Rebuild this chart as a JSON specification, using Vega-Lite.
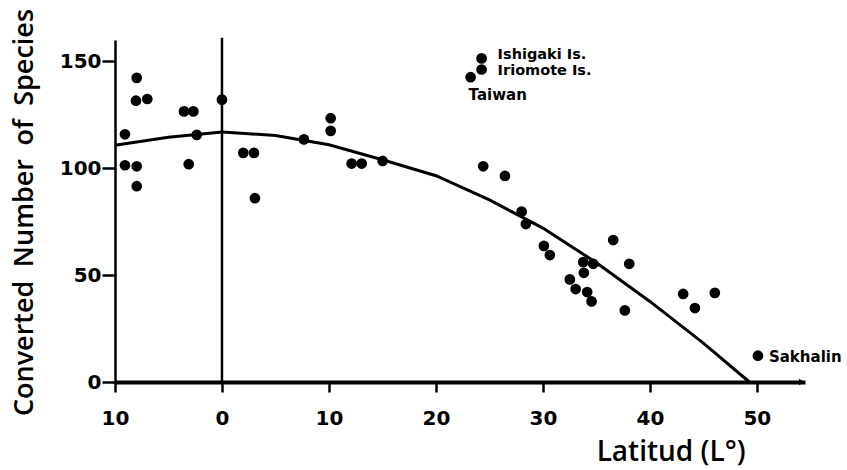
{
  "$schema": "https://vega.github.io/schema/vega-lite/v6.json",
  "width": 690,
  "height": 342,
  "autosize": "none",
  "padding": {"left": 115, "top": 40, "right": 42, "bottom": 88},
  "background": "white",
  "config": {
    "view": {"stroke": null},
    "font": "DejaVu Sans"
  },
  "datasets": {
    "points": [
      {"lat": -7.97, "species": 142.3, "label": null},
      {"lat": -8.04, "species": 131.6, "label": null},
      {"lat": -6.98, "species": 132.4, "label": null},
      {"lat": -3.55, "species": 126.6, "label": null},
      {"lat": -2.68, "species": 126.6, "label": null},
      {"lat": -9.07, "species": 115.9, "label": null},
      {"lat": -2.36, "species": 115.6, "label": null},
      {"lat": 0, "species": 132.1, "label": null},
      {"lat": -9.07, "species": 101.4, "label": null},
      {"lat": -7.97, "species": 100.9, "label": null},
      {"lat": -7.97, "species": 91.6, "label": null},
      {"lat": -3.11, "species": 101.9, "label": null},
      {"lat": 1.99, "species": 107.2, "label": null},
      {"lat": 2.99, "species": 107.2, "label": null},
      {"lat": 3.08, "species": 86.0, "label": null},
      {"lat": 7.66, "species": 113.5, "label": null},
      {"lat": 10.16, "species": 123.4, "label": null},
      {"lat": 10.16, "species": 117.5, "label": null},
      {"lat": 12.12, "species": 102.2, "label": null},
      {"lat": 13.06, "species": 102.2, "label": null},
      {"lat": 15.02, "species": 103.4, "label": null},
      {"lat": 24.27, "species": 151.4, "label": "Ishigaki Is."},
      {"lat": 24.27, "species": 146.2, "label": "Iriomote Is."},
      {"lat": 23.24, "species": 142.6, "label": "Taiwan"},
      {"lat": 24.42, "species": 100.9, "label": null},
      {"lat": 26.45, "species": 96.4, "label": null},
      {"lat": 28.01, "species": 79.7, "label": null},
      {"lat": 28.41, "species": 73.9, "label": null},
      {"lat": 30.09, "species": 63.7, "label": null},
      {"lat": 30.65, "species": 59.4, "label": null},
      {"lat": 36.57, "species": 66.4, "label": null},
      {"lat": 33.77, "species": 56.1, "label": null},
      {"lat": 34.7, "species": 55.3, "label": null},
      {"lat": 38.07, "species": 55.3, "label": null},
      {"lat": 33.83, "species": 51.1, "label": null},
      {"lat": 32.52, "species": 48.0, "label": null},
      {"lat": 33.06, "species": 43.5, "label": null},
      {"lat": 34.14, "species": 42.1, "label": null},
      {"lat": 34.55, "species": 37.7, "label": null},
      {"lat": 37.66, "species": 33.5, "label": null},
      {"lat": 43.11, "species": 41.2, "label": null},
      {"lat": 44.21, "species": 34.6, "label": null},
      {"lat": 46.07, "species": 41.7, "label": null},
      {"lat": 50.1, "species": 12.3, "label": "Sakhalin"}
    ],
    "curve": [
      {"lat": -10, "species": 110.8},
      {"lat": -5, "species": 114.5},
      {"lat": 0, "species": 117.0},
      {"lat": 5, "species": 115.3},
      {"lat": 10, "species": 111.0},
      {"lat": 15, "species": 104.0},
      {"lat": 20, "species": 96.5},
      {"lat": 25, "species": 85.2},
      {"lat": 30, "species": 72.0},
      {"lat": 35, "species": 55.8},
      {"lat": 40, "species": 37.7},
      {"lat": 45, "species": 18.2},
      {"lat": 49.3, "species": 0}
    ],
    "equator": [
      {"lat": 0, "low": 0, "high": 161}
    ],
    "arrow": [
      {"lat": 54.2, "species": 0}
    ]
  },
  "encoding": {
    "x": {
      "field": "lat",
      "type": "quantitative",
      "scale": {"domain": [-10, 54.5], "nice": false, "zero": false},
      "axis": {
        "values": [-10, 0, 10, 20, 30, 40, 50],
        "labelExpr": "abs(datum.value)",
        "labelFlush": false,
        "grid": false,
        "domainColor": "black",
        "domainWidth": 4,
        "tickColor": "black",
        "tickWidth": 2.5,
        "tickSize": 10,
        "labelFont": "DejaVu Sans",
        "labelFontWeight": "bold",
        "labelFontSize": 20,
        "labelColor": "black",
        "labelPadding": 16,
        "title": "Latitud (L°)",
        "titleFont": "Open Sans",
        "titleFontWeight": 600,
        "titleFontSize": 28,
        "titleColor": "black",
        "titleAnchor": "end",
        "titleAlign": "right",
        "titleBaseline": "alphabetic",
        "titleX": 630,
        "titleY": 78
      }
    },
    "y": {
      "field": "species",
      "type": "quantitative",
      "scale": {"domain": [0, 160], "nice": false},
      "axis": {
        "values": [0, 50, 100, 150],
        "grid": false,
        "domainColor": "black",
        "domainWidth": 2.5,
        "tickColor": "black",
        "tickWidth": 2.5,
        "tickSize": 13,
        "labelFont": "DejaVu Sans",
        "labelFontWeight": "bold",
        "labelFontSize": 20,
        "labelColor": "black",
        "labelPadding": 1,
        "title": "Converted\u2002Number\u2002of\u2002Species",
        "titleFont": "Open Sans",
        "titleFontWeight": 600,
        "titleFontSize": 27,
        "titleColor": "black",
        "titleAngle": 270,
        "titleAlign": "center",
        "titleBaseline": "alphabetic",
        "titleX": -83,
        "titleY": 172
      }
    }
  },
  "layer": [
    {
      "data": {"name": "equator"},
      "mark": {"type": "rule", "color": "black", "strokeWidth": 2.5},
      "encoding": {
        "y": {"field": "low", "type": "quantitative"},
        "y2": {"field": "high"}
      }
    },
    {
      "data": {"name": "arrow"},
      "mark": {"type": "point", "shape": "triangle-right", "filled": true, "color": "black", "opacity": 1, "size": 45, "clip": false},
      "encoding": {}
    },
    {
      "data": {"name": "curve"},
      "mark": {"type": "line", "color": "black", "strokeWidth": 3, "clip": false},
      "encoding": {}
    },
    {
      "data": {"name": "points"},
      "mark": {"type": "circle", "color": "black", "opacity": 1, "size": 115},
      "encoding": {}
    },
    {
      "data": {"name": "points"},
      "transform": [{"filter": "datum.label === 'Ishigaki Is.'"}],
      "mark": {"type": "text", "align": "left", "baseline": "middle", "dx": 16, "dy": -3, "fontSize": 14.5, "fontWeight": "bold", "color": "black", "font": "DejaVu Sans"},
      "encoding": {"text": {"field": "label"}}
    },
    {
      "data": {"name": "points"},
      "transform": [{"filter": "datum.label === 'Iriomote Is.'"}],
      "mark": {"type": "text", "align": "left", "baseline": "middle", "dx": 16, "dy": 2, "fontSize": 14.5, "fontWeight": "bold", "color": "black", "font": "DejaVu Sans"},
      "encoding": {"text": {"field": "label"}}
    },
    {
      "data": {"name": "points"},
      "transform": [{"filter": "datum.label === 'Taiwan'"}],
      "mark": {"type": "text", "align": "left", "baseline": "middle", "dx": -2, "dy": 18, "fontSize": 15, "fontWeight": "bold", "color": "black", "font": "DejaVu Sans"},
      "encoding": {"text": {"field": "label"}}
    },
    {
      "data": {"name": "points"},
      "transform": [{"filter": "datum.label === 'Sakhalin'"}],
      "mark": {"type": "text", "align": "left", "baseline": "middle", "dx": 11, "dy": 1, "fontSize": 15, "fontWeight": "bold", "color": "black", "font": "DejaVu Sans"},
      "encoding": {"text": {"field": "label"}}
    }
  ]
}
